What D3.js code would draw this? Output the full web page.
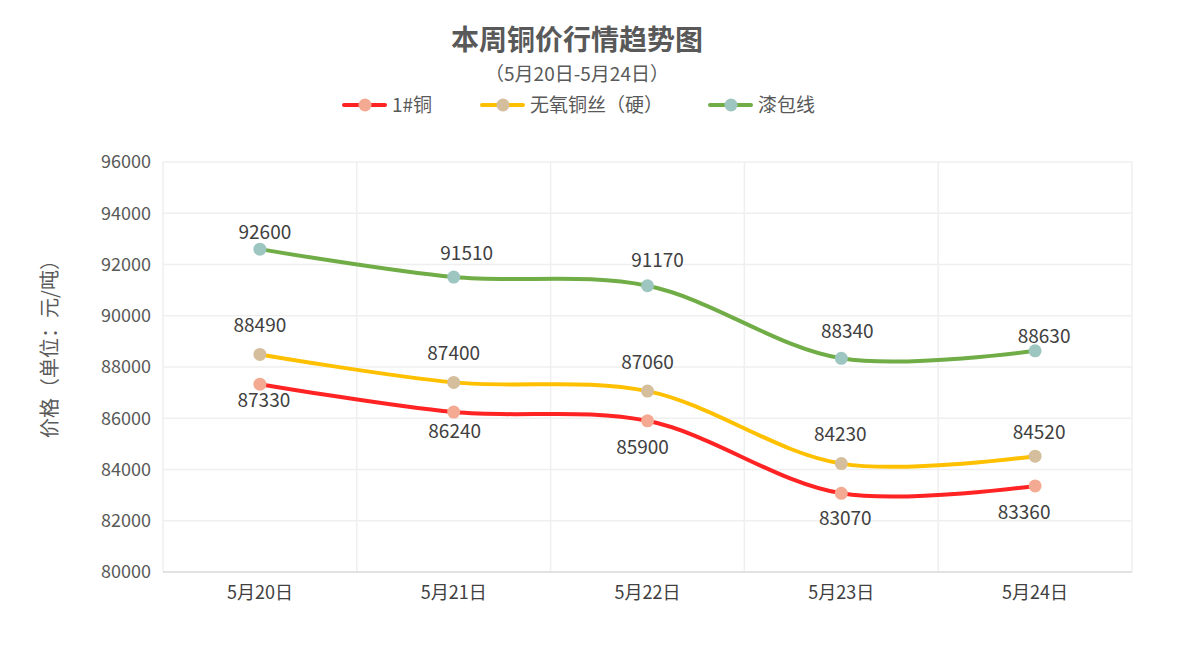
<!DOCTYPE html>
<html><head><meta charset="utf-8">
<script src="https://cdn.jsdelivr.net/npm/d3@7"></script>
<style>
html,body{margin:0;padding:0;background:#fff;}
text{font-family:"Microsoft YaHei","Noto Sans CJK SC","Noto Sans",sans-serif;}
</style></head>
<body>
<svg id="chart" width="1181" height="655"></svg>
<script>
const categories = ["5月20日","5月21日","5月22日","5月23日","5月24日"];
const seriesNames = ["1#铜","无氧铜丝（硬）","漆包线"];
const copper1 = [87330, 86240, 85900, 83070, 83360];
const oxygenFree = [88490, 87400, 87060, 84230, 84520];
const enameled = [92600, 91510, 91170, 88340, 88630];
const yTicks = [80000,82000,84000,86000,88000,90000,92000,94000,96000];

// styles
const lineColors = ["#FF2323","#FFC000","#70AD47"];
const markerColors = ["#F4AA92","#D4BE9C","#9DC6C0"];
// label centre offsets from each point (pixels), per series
const labelDx = [[4,1,-5,4,-11],[0,0,0,-1,4],[5,13,10,6,9]];
const labelDy = [[16,19,26,25,26],[-29,-29,-29,-30,-24],[-17,-24,-26,-27,-15]];

const svg = d3.select("#chart");
const margin = {left:163, right:49, top:162, bottom:83};
const W = 1181, H = 655;
const x = d3.scaleBand().domain(categories).range([margin.left, W - margin.right]);
const y = d3.scaleLinear().domain([80000, 96000]).range([H - margin.bottom, margin.top]);

// gridlines horizontal
svg.append("g").selectAll("line").data(yTicks.slice(1)).join("line")
  .attr("x1", margin.left).attr("x2", W - margin.right)
  .attr("y1", d=>y(d)).attr("y2", d=>y(d))
  .attr("stroke","#EFEFEF").attr("stroke-width",1.5);
// vertical gridlines at band boundaries
const bounds = categories.map(c=>x(c)).concat([W - margin.right]);
svg.append("g").selectAll("line").data(bounds).join("line")
  .attr("x1", d=>d).attr("x2", d=>d)
  .attr("y1", margin.top).attr("y2", H - margin.bottom)
  .attr("stroke","#EFEFEF").attr("stroke-width",1.5);
// bottom axis line
svg.append("line").attr("x1", margin.left).attr("x2", W - margin.right)
  .attr("y1", y(80000)).attr("y2", y(80000)).attr("stroke","#D9D9D9").attr("stroke-width",1.5);

// y axis
const yAxis = d3.axisLeft(y).tickValues(yTicks).tickSize(0).tickPadding(12).tickFormat(d3.format("d"));
const gy = svg.append("g").attr("transform",`translate(${margin.left},0)`).call(yAxis);
gy.select(".domain").remove();
gy.selectAll("text").attr("font-size",18).attr("fill","#595959");

// x axis
const xAxis = d3.axisBottom(x).tickSize(0).tickPadding(14);
const gx = svg.append("g").attr("transform",`translate(0,${H - margin.bottom})`).call(xAxis);
gx.select(".domain").remove();
gx.selectAll("text").attr("font-size",18).attr("fill","#404040");

// y title
svg.append("text").attr("transform",`translate(57,344) rotate(-90)`)
  .attr("text-anchor","middle").attr("font-size",20).attr("fill","#595959")
  .text("价格（单位：元/吨）");

// title
svg.append("text").attr("x",577).attr("y",50).attr("text-anchor","middle")
  .attr("font-size",28).attr("font-weight","bold").attr("fill","#595959").text("本周铜价行情趋势图");
svg.append("text").attr("x",577).attr("y",81).attr("text-anchor","middle")
  .attr("font-size",19).attr("fill","#595959").text("（5月20日-5月24日）");

// series
const data = [copper1, oxygenFree, enameled];
const cx = c => x(c) + x.bandwidth()/2;
const line = d3.line().x((d,i)=>cx(categories[i])).y(d=>y(d)).curve(d3.curveCatmullRom.alpha(0.5));
data.forEach((vals, s) => {
  svg.append("path").attr("d", line(vals)).attr("fill","none")
    .attr("stroke", lineColors[s]).attr("stroke-width",4).attr("stroke-linecap","round");
  svg.append("g").selectAll("circle").data(vals).join("circle")
    .attr("cx",(d,i)=>cx(categories[i])).attr("cy",d=>y(d)).attr("r",6.5)
    .attr("fill", markerColors[s]);
  svg.append("g").selectAll("text").data(vals).join("text")
    .attr("x",(d,i)=>cx(categories[i]) + labelDx[s][i])
    .attr("y",(d,i)=> y(d) + labelDy[s][i] + 7)
    .attr("text-anchor","middle").attr("font-size",19).attr("fill","#404040")
    .text(d=>d);
});

// legend
const legendX = [344, 482, 710];
seriesNames.forEach((n, s) => {
  const lx = legendX[s], ly = 105;
  svg.append("line").attr("x1",lx).attr("x2",lx+41).attr("y1",ly).attr("y2",ly)
    .attr("stroke",lineColors[s]).attr("stroke-width",4).attr("stroke-linecap","round");
  svg.append("circle").attr("cx",lx+21).attr("cy",ly).attr("r",6.5).attr("fill",markerColors[s]);
  svg.append("text").attr("x",lx+48).attr("y",ly+7).attr("font-size",19).attr("fill","#595959").text(n);
});
</script>
</body></html>
